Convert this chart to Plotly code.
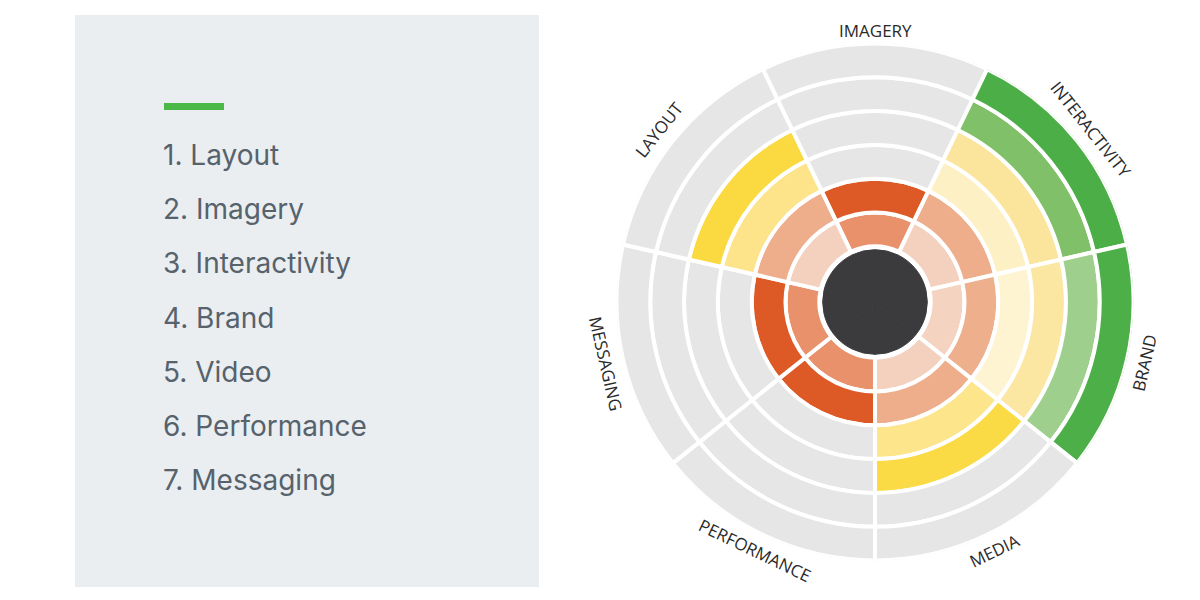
import math
import plotly.graph_objects as go

# ---------------- data ----------------
categories = ["Imagery", "Interactivity", "Brand", "Media", "Performance", "Messaging", "Layout"]
scores = [2, 6, 6, 4, 2, 2, 4]          # filled rings per category (out of 6)
ring_colors = {
    "Imagery":       ["#e9916b", "#dd5a27"],
    "Interactivity": ["#f3d1be", "#eeae8c", "#fdf0c4", "#fbe49b", "#7fc068", "#4cae46"],
    "Brand":         ["#f4d3c0", "#eeaf8d", "#fef4d2", "#fbe7a2", "#9ecf8c", "#4caf47"],
    "Media":         ["#f3d1be", "#eeae8c", "#fde58c", "#fbdb45"],
    "Performance":   ["#e9916b", "#dd5a27"],
    "Messaging":     ["#e9916b", "#dd5a27"],
    "Layout":        ["#f3d1be", "#eeae8c", "#fde48a", "#fbd940"],
}
n_rings = 6
list_items = ["1. Layout", "2. Imagery", "3. Interactivity", "4. Brand",
              "5. Video", "6. Performance", "7. Messaging"]

# ---------------- style ----------------
W, H = 1200, 600
CX, CY = 875, 302              # chart centre in pixels (from top)
CORE_R = 52.3
RING0 = 55.7
PITCH = 33.8
R_MAX = RING0 + n_rings * PITCH
GRAY = "#e6e6e6"
DARK = "#3b3a3d"

n = len(categories)
step = 360 / n
thetas = [i * step for i in range(n)]

fig = go.Figure()

# dark centre
fig.add_trace(go.Barpolar(
    theta=thetas, r=[CORE_R] * n, base=[0] * n, width=[step] * n,
    marker=dict(color=DARK, line=dict(color=DARK, width=1)),
    hoverinfo="skip", showlegend=False))

# rings
for k in range(n_rings):
    cols = []
    for c, s in zip(categories, scores):
        cols.append(ring_colors[c][k] if k < s else GRAY)
    fig.add_trace(go.Barpolar(
        theta=thetas, r=[PITCH] * n, base=[RING0 + k * PITCH] * n, width=[step] * n,
        marker=dict(color=cols, line=dict(color="white", width=4)),
        customdata=categories, hovertemplate="%{customdata}<extra></extra>",
        showlegend=False))

half = R_MAX
fig.update_layout(
    width=W, height=H,
    margin=dict(l=0, r=0, t=0, b=0),
    paper_bgcolor="white", plot_bgcolor="white",
    template="none",
    polar=dict(
        barmode="overlay",
        bgcolor="rgba(0,0,0,0)",
        domain=dict(x=[(CX - half) / W, (CX + half) / W],
                    y=[(H - CY - half) / H, (H - CY + half) / H]),
        radialaxis=dict(range=[0, R_MAX], visible=False, showgrid=False),
        angularaxis=dict(rotation=90, direction="clockwise", visible=False,
                         showgrid=False, showline=False, ticks=""),
    ),
)

# left panel
shapes = [
    dict(type="rect", xref="paper", yref="paper", layer="below",
         x0=75 / W, x1=539 / W, y0=1 - 587 / H, y1=1 - 15 / H,
         fillcolor="#eaeef1", line=dict(width=0)),
    dict(type="rect", xref="paper", yref="paper",
         x0=164 / W, x1=224 / W, y0=1 - 110 / H, y1=1 - 103 / H,
         fillcolor="#4cb848", line=dict(width=0)),
]
fig.update_layout(shapes=shapes)

annotations = []
for i, t in enumerate(list_items):
    yc = 155 + i * 54.2
    annotations.append(dict(
        text=t, xref="paper", yref="paper", x=161 / W, y=1 - yc / H,
        xanchor="left", yanchor="middle", showarrow=False,
        font=dict(family="Inter", size=28, color="#56626c")))

# category labels around the wheel
for i, c in enumerate(categories):
    th = math.radians(90 - i * step)
    r = 271 if i == 0 else 276
    x = CX + r * math.cos(th)
    y = CY - r * math.sin(th)
    if math.sin(th) > 0.01 or i == 0:
        ang = math.degrees(math.atan2(math.cos(th), math.sin(th)))
    else:
        ang = math.degrees(math.atan2(-math.cos(th), -math.sin(th)))
    annotations.append(dict(
        text=c.upper(), xref="paper", yref="paper", x=x / W, y=1 - y / H,
        xanchor="center", yanchor="middle", showarrow=False, textangle=ang,
        font=dict(family="Open Sans", size=17, color="#2a2a2a")))

fig.update_layout(annotations=annotations)
fig.write_html("out.html")
